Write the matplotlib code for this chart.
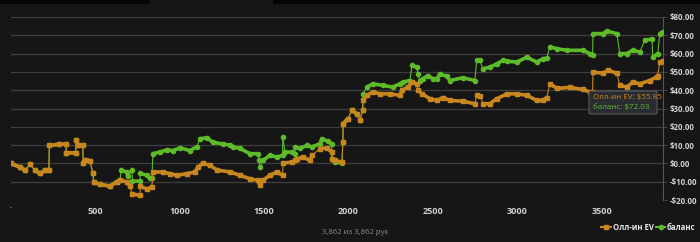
import numpy as np
import matplotlib
matplotlib.use('Agg')
import matplotlib.pyplot as plt
from matplotlib.patches import Rectangle, FancyBboxPatch

plt.rcParams['font.family'] = ['Open Sans', 'DejaVu Sans']

# --- data (hand number, dollars) ---
ev_hands = [0, 56, 86, 115, 145, 175, 204, 227, 230, 290, 328, 330, 385, 390, 399, 428, 430, 440,
            470, 488, 492, 530, 589, 630, 648, 689, 707, 719, 766, 768, 808, 837, 843, 902, 944,
            985, 1044, 1092, 1109, 1139, 1180, 1222, 1299, 1358, 1417, 1464, 1476, 1494, 1535,
            1577, 1610, 1614, 1666, 1683, 1695, 1731, 1772, 1784, 1831, 1873, 1900, 1904, 1920,
            1962, 1967, 1969, 1997, 2021, 2050, 2068, 2084, 2088, 2109, 2145, 2186, 2245, 2305,
            2316, 2352, 2376, 2405, 2411, 2435, 2482, 2524, 2559, 2601, 2678, 2748, 2760, 2780,
            2796, 2837, 2879, 2938, 2997, 3056, 3115, 3151, 3174, 3192, 3234, 3311, 3388, 3429,
            3445, 3448, 3506, 3536, 3589, 3606, 3648, 3683, 3725, 3784, 3825, 3831, 3843, 3862]
ev_values = [0, -2, -3.8, -0.5, -3.8, -5.5, -3.8, -3.8, 9.8, 10.5, 10.5, 5.8, 5.8, 12.6, 10, 10, 0, 2,
             1.5, -5.3, -10.2, -11.5, -12.4, -10, -9.3, -10, -12.6, -16.6, -17.5, -12.6, -14, -13, -4.7, -4.7, -5.6,
             -6.5, -5.6, -4.7, -2, 0, -1, -3.6, -4.7, -6.5, -8.4, -9.3, -12, -9.3, -6.5,
             -4.7, -6.5, 0.2, 0.7, 1.6, 2.5, 3.5, 1.6, 4.4, 8, 8.5, 6.2, 2.2, 1.6,
             0.7, 11.6, 21.7, 24.4, 29, 27, 23.5, 29, 34.4, 37.2, 39, 38, 38, 37.2,
             40, 41.7, 44.4, 43.5, 40, 38, 35.4, 34.4, 36, 34.4, 34, 32.6, 37.2, 37,
             32.6, 32.6, 35.4, 38, 38, 37.2, 34.4, 34.4, 36, 43.5, 41, 41.5, 40.4, 39,
             39, 49.9, 49.3, 50.8, 49.3, 42.6, 41.7, 44.4, 43.5, 45.3, 47.2, 48, 55.4, 55.85]

bal_hands = [0, 56, 86, 115, 145, 175, 204, 227, 230, 290, 328, 330, 385, 390, 399, 428, 430, 440,
             470, 488, 492, 530, 589, 630, 648, 655, 689, 695, 719, 722, 766, 768, 808, 825, 837,
             843, 885, 926, 962, 1003, 1062, 1104, 1121, 1163, 1198, 1257, 1299, 1317, 1358, 1417,
             1464, 1470, 1476, 1494, 1535, 1577, 1610, 1612, 1624, 1666, 1683, 1686, 1713, 1754,
             1784, 1831, 1843, 1879, 1900, 1904, 1920, 1962, 1967, 1969, 1997, 2021, 2050, 2068,
             2084, 2086, 2109, 2145, 2204, 2263, 2305, 2322, 2364, 2376, 2405, 2411, 2423, 2441,
             2470, 2500, 2524, 2541, 2583, 2601, 2678, 2748, 2760, 2778, 2796, 2837, 2879, 2914,
             2938, 2997, 3056, 3115, 3151, 3174, 3192, 3234, 3293, 3388, 3429, 3445, 3448, 3506,
             3530, 3589, 3606, 3648, 3683, 3725, 3754, 3796, 3802, 3831, 3843, 3862]
bal_values = [0, -2, -3.8, -0.5, -3.8, -5.5, -3.8, -3.8, 9.8, 10.5, 10.5, 5.8, 5.8, 12.6, 10, 10, 0, 2,
              1.5, -5.3, -10.2, -11.5, -12.4, -10, -9.3, -3.8, -4.7, -7, -3.8, -9.7, -9.7, -5.5, -6.5, -8.2, -8.2,
              5.3, 6.2, 7.4, 7, 8.5, 7, 9.2, 13.5, 14, 11.5, 10.6, 10, 9, 8.2, 5.3,
              5.3, 1.6, -2, 1.6, 4.4, 3.5, 4.4, 14.4, 6.2, 6.2, 5.3, 8.7, 8.2, 9.8,
              9, 10.7, 13.5, 12, 10.7, 2.2, 0.9, 0, 11.6, 21.7, 24.4, 29, 27, 23.5,
              29, 38, 41.7, 43.5, 42.6, 41.7, 43.5, 44.4, 45.3, 53.5, 52.7, 49, 45.3, 46.3,
              48, 46.3, 46.3, 49, 47.5, 45.3, 46.8, 45.3, 56.3, 56.3, 51.7, 52.6, 54.4, 56.3,
              55.8, 55.4, 58, 55.4, 57.2, 57.5, 63.6, 62.7, 61.8, 61.8, 60, 59.5, 70.9, 70.9,
              72.3, 70.9, 60, 60, 61.8, 60.9, 67.2, 68, 58, 60, 70.9, 72.03]

total_hands = 3862
y_ticks = [-20, -10, 0, 10, 20, 30, 40, 50, 60, 70, 80]
x_ticks = [500, 1000, 1500, 2000, 2500, 3000, 3500]
ev_label = "Олл-ин EV"
bal_label = "баланс"

BG = '#161616'
ORANGE = '#c8861e'
GREEN = '#5dbb2a'
GRID = '#3e3e3e'
TXT = '#d0d0d0'


def thick_parts(xs, ys, limit=3.0):
    # break the thick trace at the big jumps so they stay thin lines
    xo, yo = [xs[0]], [ys[0]]
    for i in range(1, len(xs)):
        if abs(ys[i] - ys[i - 1]) > limit:
            xo.append(np.nan)
            yo.append(np.nan)
        xo.append(xs[i])
        yo.append(ys[i])
    return xo, yo


fig = plt.figure(figsize=(7.0, 2.42), dpi=100, facecolor=BG)
ax = fig.add_axes([10.5 / 700, 42 / 242, (663 - 10.5) / 700, 183 / 242])
ax.set_facecolor(BG)

# top page strip
fig.patches.append(Rectangle((0, 1 - 4 / 242), 150 / 700, 4 / 242, transform=fig.transFigure,
                             facecolor='#050505', edgecolor='none'))
fig.patches.append(Rectangle((273 / 700, 1 - 4 / 242), 427 / 700, 4 / 242, transform=fig.transFigure,
                             facecolor='#050505', edgecolor='none'))

for y in y_ticks:
    ax.axhline(y, color=GRID, lw=0.9, zorder=1)

for hands, vals, col, mk, z in [(bal_hands, bal_values, GREEN, 'o', 3), (ev_hands, ev_values, ORANGE, 's', 4)]:
    ax.plot(hands, vals, color=col, lw=0.8, zorder=z)
    tx, ty = thick_parts(hands, vals)
    ax.plot(tx, ty, color=col, lw=2.6, solid_capstyle='round', zorder=z)
    ax.plot(hands, vals, ls='none', marker=mk, ms=3.0, color=col, zorder=z)

ax.set_xlim(0, total_hands)
ax.set_ylim(-20, 80)
ax.set_xticks(x_ticks)
ax.set_xticklabels([str(t) for t in x_ticks], color=TXT, fontsize=6.5, fontweight='bold')
ax.tick_params(axis='x', length=0, pad=5)
ax.yaxis.tick_right()
ax.set_yticks(y_ticks)
ax.set_yticklabels([('-$%.2f' % -t) if t < 0 else ('$%.2f' % t) for t in y_ticks],
                   color=TXT, fontsize=5.7, fontweight='bold')
ax.tick_params(axis='y', length=3, color=GRID, pad=2)
for side in ['top', 'left', 'bottom']:
    ax.spines[side].set_visible(False)
ax.spines['right'].set_color('#555555')
ax.spines['right'].set_linewidth(0.8)

# small dot at the origin tick
fig.text(11 / 700, 1 - 209 / 242, '·', color=TXT, fontsize=6, ha='center', va='center')

# tooltip
fig.patches.append(FancyBboxPatch((589 / 700, 1 - 114 / 242), 68 / 700, 23 / 242,
                                  boxstyle='round,pad=0,rounding_size=0.004', transform=fig.transFigure,
                                  facecolor='#2a2c31', edgecolor='#5a5a5a', lw=0.8, zorder=10))
fig.text(593 / 700, 1 - 97.5 / 242, "%s: $%.2f" % (ev_label, ev_values[-1]), color=ORANGE,
         fontsize=5.8, va='center', zorder=11)
fig.text(593 / 700, 1 - 107.5 / 242, "%s: $%.2f" % (bal_label, bal_values[-1]), color=GREEN,
         fontsize=5.8, va='center', zorder=11)

# footer
fig.text(322 / 700, 1 - 233 / 242, "%s из %s рук" % (format(total_hands, ','), format(total_hands, ',')),
         color='#8a8a8a', fontsize=5.6, va='center')

# legend
ly = 1 - 227 / 242
fig.lines.append(plt.Line2D([601 / 700, 611 / 700], [ly, ly], transform=fig.transFigure, color=ORANGE, lw=1.5))
fig.lines.append(plt.Line2D([606 / 700], [ly], transform=fig.transFigure, color=ORANGE, marker='s', ms=3))
fig.text(613 / 700, ly, ev_label, color='#e8e8e8', fontsize=5.6, fontweight='bold', va='center')
fig.lines.append(plt.Line2D([656 / 700, 665 / 700], [ly, ly], transform=fig.transFigure, color=GREEN, lw=1.5))
fig.lines.append(plt.Line2D([660.5 / 700], [ly], transform=fig.transFigure, color=GREEN, marker='o', ms=3))
fig.text(667 / 700, ly, bal_label, color='#e8e8e8', fontsize=5.6, fontweight='bold', va='center')

fig.savefig('out.png', dpi=100, facecolor=BG)
